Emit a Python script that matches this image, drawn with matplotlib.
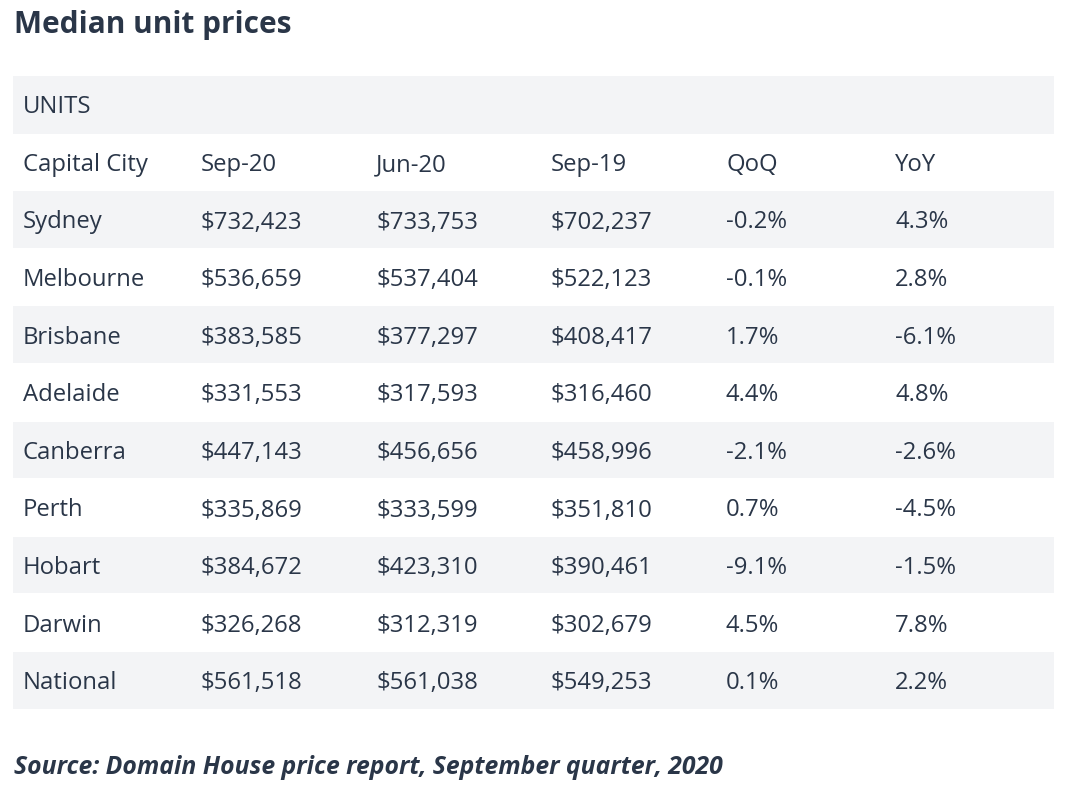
import matplotlib
matplotlib.use("Agg")
import matplotlib.pyplot as plt
from matplotlib.patches import Rectangle

cities = ["Sydney", "Melbourne", "Brisbane", "Adelaide", "Canberra",
          "Perth", "Hobart", "Darwin", "National"]
sep20 = [732423, 536659, 383585, 331553, 447143, 335869, 384672, 326268, 561518]
jun20 = [733753, 537404, 377297, 317593, 456656, 333599, 423310, 312319, 561038]
sep19 = [702237, 522123, 408417, 316460, 458996, 351810, 390461, 302679, 549253]
qoq = [-0.2, -0.1, 1.7, 4.4, -2.1, 0.7, -9.1, 4.5, 0.1]
yoy = [4.3, 2.8, -6.1, 4.8, -2.6, -4.5, -1.5, 7.8, 2.2]
headers = ["Capital City", "Sep-20", "Jun-20", "Sep-19", "QoQ", "YoY"]

TXT = "#2a3648"
STRIPE = "#f3f4f6"
FONT = ["Open Sans", "DejaVu Sans"]

fig = plt.figure(figsize=(10.8, 7.86), dpi=100)
ax = fig.add_axes([0, 0, 1, 1])
ax.set_xlim(0, 1080)
ax.set_ylim(786, 0)
ax.axis("off")

ax.text(14, 25, "Median unit prices", fontsize=21.4, fontweight="bold",
        color=TXT, family=FONT, va="center")

left, right = 13, 1054
top, rowh = 76, 57.6
colx = [23, 201, 376, 551, 726, 895]
fs = 17.2
dy = 2.5  # text sits slightly below the band centre

rows = [[c, f"${a:,}", f"${b:,}", f"${d:,}", f"{q}%", f"{y}%"]
        for c, a, b, d, q, y in zip(cities, sep20, jun20, sep19, qoq, yoy)]

# units band
ax.add_patch(Rectangle((left, top), right - left, rowh, color=STRIPE, lw=0))
ax.text(colx[0], top + rowh / 2 + dy, "UNITS", fontsize=fs, color=TXT,
        family=FONT, va="center")

y0 = top + rowh
for j, h in enumerate(headers):
    ax.text(colx[j], y0 + rowh / 2 + dy, h, fontsize=fs, color=TXT,
            family=FONT, va="center")

for i, r in enumerate(rows):
    yt = y0 + (i + 1) * rowh
    if i % 2 == 0:
        ax.add_patch(Rectangle((left, yt), right - left, rowh - 1,
                               color=STRIPE, lw=0))
    for j, v in enumerate(r):
        ax.text(colx[j], yt + rowh / 2 + dy, v, fontsize=fs, color=TXT,
                family=FONT, va="center")

ax.text(14, 767, "Source: Domain House price report, September quarter, 2020",
        fontsize=17.8, fontweight="bold", style="italic", color=TXT,
        family=FONT, va="center")

fig.savefig("out.png", dpi=100)
